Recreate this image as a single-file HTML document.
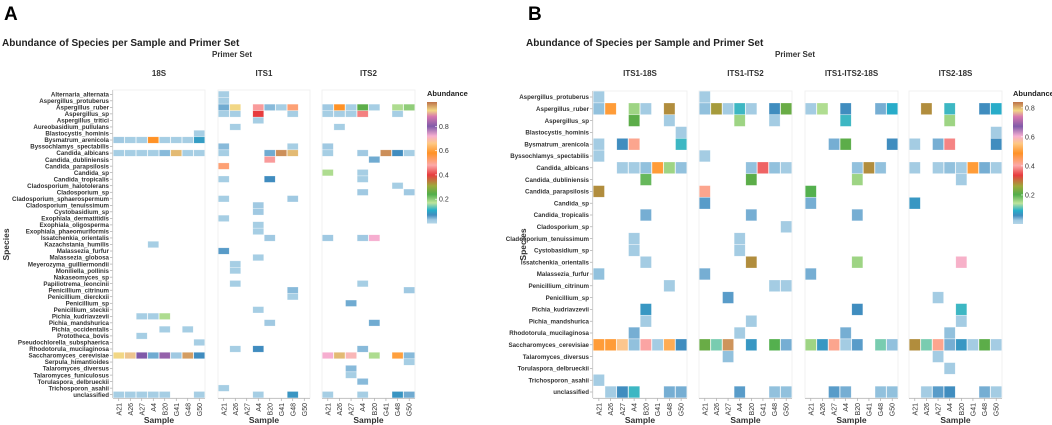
<!DOCTYPE html>
<html><head><meta charset="utf-8"><style>
body{margin:0;background:#fff;}
svg{display:block;font-family:"Liberation Sans",sans-serif;}
</style></head><body>
<svg id="fig" width="1052" height="425" viewBox="0 0 1052 425" xmlns="http://www.w3.org/2000/svg">
<defs>
<linearGradient id="cbar" x1="0" y1="1" x2="0" y2="0">
<stop offset="0" stop-color="#a6cee3"/><stop offset="0.03" stop-color="#8fc0dd"/><stop offset="0.07" stop-color="#1f78b4"/><stop offset="0.11" stop-color="#00a0c0"/><stop offset="0.17" stop-color="#b2df8a"/><stop offset="0.24" stop-color="#33a02c"/><stop offset="0.31" stop-color="#8c9a1a"/><stop offset="0.4" stop-color="#e31a1c"/><stop offset="0.48" stop-color="#fb9a99"/><stop offset="0.58" stop-color="#ff7f00"/><stop offset="0.66" stop-color="#fdbf6f"/><stop offset="0.72" stop-color="#f5a0c8"/><stop offset="0.8" stop-color="#6a3d9a"/><stop offset="0.88" stop-color="#d060a0"/><stop offset="0.93" stop-color="#f0d070"/><stop offset="1" stop-color="#b15928"/>
</linearGradient>
</defs>
</svg>
<script>
const samples = ["A21","A26","A27","A4","B20","G41","G48","G50"];
const speciesA = ["Alternaria_alternata","Aspergillus_protuberus","Aspergillus_ruber","Aspergillus_sp","Aspergillus_tritici","Aureobasidium_pullulans","Blastocystis_hominis","Bysmatrum_arenicola","Byssochlamys_spectabilis","Candida_albicans","Candida_dubliniensis","Candida_parapsilosis","Candida_sp","Candida_tropicalis","Cladosporium_halotolerans","Cladosporium_sp","Cladosporium_sphaerospermum","Cladosporium_tenuissimum","Cystobasidium_sp","Exophiala_dermatitidis","Exophiala_oligosperma","Exophiala_phaeomuriformis","Issatchenkia_orientalis","Kazachstania_humilis","Malassezia_furfur","Malassezia_globosa","Meyerozyma_guilliermondii","Moniliella_pollinis","Nakaseomyces_sp","Papiliotrema_leoncinii","Penicillium_citrinum","Penicillium_dierckxii","Penicillium_sp","Penicillium_steckii","Pichia_kudriavzevii","Pichia_mandshurica","Pichia_occidentalis","Prototheca_bovis","Pseudochlorella_subsphaerica","Rhodotorula_mucilaginosa","Saccharomyces_cerevisiae","Serpula_himantioides","Talaromyces_diversus","Talaromyces_funiculosus","Torulaspora_delbrueckii","Trichosporon_asahii","unclassified"];
const speciesB = ["Aspergillus_protuberus","Aspergillus_ruber","Aspergillus_sp","Blastocystis_hominis","Bysmatrum_arenicola","Byssochlamys_spectabilis","Candida_albicans","Candida_dubliniensis","Candida_parapsilosis","Candida_sp","Candida_tropicalis","Cladosporium_sp","Cladosporium_tenuissimum","Cystobasidium_sp","Issatchenkia_orientalis","Malassezia_furfur","Penicillium_citrinum","Penicillium_sp","Pichia_kudriavzevii","Pichia_mandshurica","Rhodotorula_mucilaginosa","Saccharomyces_cerevisiae","Talaromyces_diversus","Torulaspora_delbrueckii","Trichosporon_asahii","unclassified"];
const ticksA = [0.2,0.4,0.6,0.8];
const ticksB = [0.2,0.4,0.6,0.8];
// [species index, sample index, abundance]
const cells18S = [[6,7,0.02],[7,0,0.03],[7,1,0.02],[7,2,0.02],[7,3,0.58],[7,4,0.02],[7,5,0.02],[7,6,0.02],[7,7,0.09],[9,0,0.02],[9,1,0.02],[9,2,0.02],[9,3,0.02],[9,4,0.04],[9,5,0.95],[9,6,0.02],[9,7,0.02],[23,3,0.02],[34,2,0.02],[34,3,0.02],[34,4,0.18],[36,4,0.02],[36,6,0.02],[37,2,0.02],[38,7,0.02],[40,0,0.93],[40,1,0.92],[40,2,0.8],[40,3,0.05],[40,4,0.82],[40,5,0.03],[40,6,0.97],[40,7,0.07],[46,0,0.02],[46,1,0.02],[46,2,0.02],[46,3,0.02],[46,4,0.02],[46,7,0.02]];
const cellsITS1 = [[0,0,0.02],[1,0,0.02],[2,0,0.05],[2,1,0.93],[2,3,0.47],[2,4,0.04],[2,5,0.02],[2,6,0.52],[3,0,0.02],[3,1,0.02],[3,3,0.4],[3,6,0.02],[4,3,0.02],[5,1,0.02],[8,0,0.04],[8,6,0.02],[9,0,0.02],[9,4,0.05],[9,5,0.98],[9,6,0.95],[10,4,0.47],[11,0,0.52],[13,0,0.02],[13,4,0.07],[16,0,0.02],[16,6,0.03],[17,3,0.03],[18,3,0.03],[19,0,0.02],[20,3,0.02],[21,3,0.02],[22,4,0.03],[24,0,0.06],[25,3,0.02],[26,1,0.02],[27,1,0.02],[29,1,0.02],[30,6,0.04],[31,6,0.02],[33,3,0.02],[35,4,0.03],[39,1,0.02],[39,3,0.07],[45,0,0.02],[46,3,0.02],[46,6,0.08]];
const cellsITS2 = [[2,0,0.03],[2,1,0.58],[2,2,0.02],[2,3,0.25],[2,4,0.02],[2,6,0.18],[2,7,0.2],[3,0,0.02],[3,1,0.02],[3,2,0.02],[3,3,0.45],[3,6,0.02],[5,1,0.02],[8,0,0.03],[9,0,0.02],[9,3,0.03],[9,5,0.98],[9,6,0.07],[9,7,0.02],[10,4,0.05],[12,0,0.18],[12,3,0.02],[13,3,0.02],[14,6,0.02],[15,3,0.03],[15,7,0.03],[22,0,0.03],[22,3,0.03],[22,4,0.72],[29,3,0.02],[30,7,0.03],[32,2,0.05],[35,4,0.05],[39,3,0.04],[40,0,0.72],[40,1,0.95],[40,2,0.7],[40,4,0.18],[40,6,0.6],[40,7,0.04],[41,7,0.02],[42,2,0.04],[43,2,0.02],[44,3,0.04],[46,0,0.02],[46,3,0.02],[46,6,0.08],[46,7,0.05]];
const cellsITS1_18S = [[0,0,0.02],[1,0,0.03],[1,1,0.5],[1,3,0.16],[1,4,0.02],[1,6,0.28],[2,3,0.21],[2,6,0.02],[3,7,0.02],[4,0,0.02],[4,2,0.06],[4,3,0.42],[4,7,0.1],[5,0,0.02],[6,2,0.02],[6,3,0.02],[6,4,0.03],[6,5,0.5],[6,6,0.16],[6,7,0.03],[7,4,0.19],[8,0,0.28],[10,4,0.04],[12,3,0.02],[13,3,0.02],[14,4,0.02],[15,0,0.03],[16,6,0.02],[18,4,0.07],[19,4,0.02],[20,3,0.04],[21,0,0.5],[21,1,0.5],[21,2,0.56],[21,3,0.03],[21,4,0.4],[21,5,0.02],[21,6,0.52],[21,7,0.06],[24,0,0.02],[25,1,0.02],[25,2,0.06],[25,3,0.1],[25,6,0.04],[25,7,0.04]];
const cellsITS1_ITS2 = [[0,0,0.02],[1,0,0.03],[1,1,0.27],[1,2,0.02],[1,3,0.1],[1,4,0.02],[1,6,0.06],[1,7,0.22],[2,3,0.16],[2,6,0.02],[5,0,0.02],[6,4,0.03],[6,5,0.36],[6,6,0.03],[6,7,0.02],[7,4,0.21],[8,0,0.42],[9,0,0.05],[10,4,0.04],[11,7,0.02],[12,3,0.02],[13,3,0.02],[14,4,0.28],[15,0,0.04],[16,6,0.02],[16,7,0.02],[17,2,0.05],[19,4,0.02],[20,3,0.02],[21,0,0.22],[21,1,0.12],[21,2,0.82],[21,4,0.07],[21,6,0.2],[21,7,0.04],[22,2,0.03],[25,3,0.05],[25,6,0.03],[25,7,0.03]];
const cellsITS1_ITS2_18S = [[1,0,0.02],[1,1,0.15],[1,3,0.06],[1,6,0.04],[1,7,0.09],[2,3,0.1],[4,2,0.04],[4,3,0.21],[4,7,0.06],[6,4,0.03],[6,5,0.28],[6,6,0.03],[7,4,0.16],[8,0,0.2],[9,0,0.04],[10,4,0.04],[14,4,0.16],[15,0,0.04],[18,4,0.06],[20,3,0.04],[21,0,0.16],[21,1,0.07],[21,2,0.42],[21,3,0.02],[21,4,0.05],[21,6,0.12],[21,7,0.03],[25,2,0.05],[25,3,0.04],[25,6,0.03],[25,7,0.03]];
const cellsITS2_18S = [[1,1,0.28],[1,3,0.1],[1,6,0.06],[1,7,0.09],[2,3,0.16],[3,7,0.02],[4,0,0.02],[4,2,0.04],[4,3,0.38],[4,7,0.06],[6,0,0.02],[6,2,0.02],[6,3,0.03],[6,4,0.02],[6,5,0.5],[6,6,0.04],[6,7,0.02],[7,4,0.02],[9,0,0.07],[14,4,0.6],[17,2,0.02],[18,4,0.1],[19,4,0.02],[20,3,0.03],[21,0,0.28],[21,1,0.12],[21,2,0.42],[21,3,0.04],[21,4,0.07],[21,5,0.02],[21,6,0.21],[21,7,0.02],[22,2,0.02],[23,3,0.02],[25,1,0.02],[25,2,0.05],[25,3,0.06],[25,6,0.04],[25,7,0.02]];

const NS="http://www.w3.org/2000/svg";
const svg=document.getElementById('fig');
const stops=[[0,[166,206,227]],[0.03,[143,192,221]],[0.07,[31,120,180]],[0.11,[0,160,192]],[0.17,[178,223,138]],[0.24,[51,160,44]],[0.31,[140,154,26]],[0.4,[227,26,28]],[0.48,[251,154,153]],[0.58,[255,127,0]],[0.66,[253,191,111]],[0.72,[245,160,200]],[0.8,[106,61,154]],[0.88,[208,96,160]],[0.93,[240,208,112]],[1,[177,89,40]]];
function colorOf(v,max){let t=Math.max(0,Math.min(1,v/max));for(let i=1;i<stops.length;i++){if(t<=stops[i][0]){const a=stops[i-1],b=stops[i];const f=(t-a[0])/(b[0]-a[0]);const c=a[1].map((x,k)=>Math.round(x+(b[1][k]-x)*f));return `rgb(${c[0]},${c[1]},${c[2]})`;}}return 'rgb(177,89,40)';}
function el(tag,attrs,parent){const e=document.createElementNS(NS,tag);for(const k in attrs)e.setAttribute(k,attrs[k]);(parent||svg).appendChild(e);return e;}
function txt(s,attrs,parent){const e=el('text',attrs,parent);e.textContent=s;return e;}

function panel(cfg){
  const g=el('g',{});
  
  
  const n=cfg.species.length;
  const rowY=i=>cfg.y0+i*cfg.dy;
  const t1=txt(cfg.letter,{x:cfg.lx,y:20,'font-size':19,'font-weight':'bold',fill:'#000'},g);
  
  
  const t2=txt('Abundance of Species per Sample and Primer Set',{x:cfg.lx-2,y:46,'font-size':10,'font-weight':'bold',fill:'#222'},g);
  
  
  const t3=txt('Primer Set',{x:cfg.psx,y:57,'font-size':8,'font-weight':'bold','text-anchor':'middle',fill:'#333'},g);
  
  
  const t4=txt('Species',{x:0,y:0,'font-size':8.5,'font-weight':'bold','text-anchor':'middle',fill:'#333',transform:`translate(${cfg.spx},${(rowY(0)+rowY(n-1))/2}) rotate(-90)`},g);
  
  
  const ax=cfg.facets[0].x;
  el('line',{x1:ax-0.5,y1:cfg.top,x2:ax-0.5,y2:cfg.bottom,stroke:'#999','stroke-width':0.6},g);
  cfg.species.forEach((s,i)=>{
    const y=rowY(i);
    el('line',{x1:ax-3,y1:y,x2:ax-0.5,y2:y,stroke:'#999','stroke-width':0.6},g);
    const t=txt(s,{x:ax-4,y:y+cfg.fs*0.35,'font-size':cfg.fs,'font-weight':'bold','text-anchor':'end',fill:'#333'},g);
    
    
  });
  cfg.facets.forEach(f=>{
    const fg=el('g',{},g);
    
    
    const cw=f.w/samples.length;
    const colX=j=>f.x+j*cw;
    el('rect',{x:f.x,y:cfg.top,width:f.w,height:cfg.bottom-cfg.top,fill:'#fff',stroke:'#eee','stroke-width':0.8},fg);
    const ft=txt(f.label,{x:f.x+f.w/2,y:76,'font-size':8,'font-weight':'bold','text-anchor':'middle',fill:'#333'},fg);
    
    
    f.data.forEach(d=>{
      const r=el('rect',{x:colX(d[1])+0.3,y:rowY(d[0])-cfg.ch/2,width:cw-0.6,height:cfg.ch,fill:colorOf(d[2],cfg.max),'fill-opacity':0.85,stroke:'rgba(255,255,255,0.5)','stroke-width':0.5},fg);
      
      
    });
    el('line',{x1:f.x,y1:cfg.bottom+0.5,x2:f.x+f.w,y2:cfg.bottom+0.5,stroke:'#999','stroke-width':0.6},fg);
    samples.forEach((s,j)=>{
      const x=colX(j)+cw/2;
      el('line',{x1:x,y1:cfg.bottom+0.5,x2:x,y2:cfg.bottom+3,stroke:'#999','stroke-width':0.6},fg);
      const t=txt(s,{x:0,y:0,'font-size':7,'text-anchor':'end',fill:'#333',transform:`translate(${x+2.5},${cfg.bottom+5}) rotate(-90)`},fg);
      
      
    });
    const st=txt('Sample',{x:f.x+f.w/2,y:423,'font-size':8.5,'font-weight':'bold','text-anchor':'middle',fill:'#333'},fg);
    
    
  });
  const cb=el('g',{},g);
  
  
  const lt=txt('Abundance',{x:cfg.cbx,y:cfg.cbTop-6,'font-size':7.5,'font-weight':'bold',fill:'#222'},cb);
  
  
  el('rect',{x:cfg.cbx,y:cfg.cbTop,width:10,height:cfg.cbBot-cfg.cbTop,fill:'url(#cbar)','fill-opacity':0.85},cb);
  cfg.ticks.forEach(v=>{
    const y=cfg.cbBot-(v/cfg.max)*(cfg.cbBot-cfg.cbTop);
    el('line',{x1:cfg.cbx+8,y1:y,x2:cfg.cbx+10,y2:y,stroke:'#fff','stroke-width':0.6},cb);
    const t=txt(v.toFixed(1),{x:cfg.cbx+12,y:y+2.5,'font-size':7,fill:'#333'},cb);
    
    
  });
}

panel({name:'panel-a',letter:'A',lx:4,spx:9,psx:232,species:speciesA,y0:94.3,dy:6.53,ch:6.4,top:90,bottom:398,fs:6.2,max:1.0,
  facets:[{label:'18S',x:113,w:92,data:cells18S},{label:'ITS1',x:218,w:92,data:cellsITS1},{label:'ITS2',x:322,w:93,data:cellsITS2}],
  cbx:427,cbTop:102,cbBot:223.5,ticks:ticksA});
panel({name:'panel-b',letter:'B',lx:528,spx:526,psx:795,species:speciesB,y0:97,dy:11.8,ch:11.6,top:91,bottom:398,fs:6.2,max:0.84,
  facets:[{label:'ITS1-18S',x:593,w:94,data:cellsITS1_18S},{label:'ITS1-ITS2',x:699,w:93,data:cellsITS1_ITS2},{label:'ITS1-ITS2-18S',x:805,w:93,data:cellsITS1_ITS2_18S},{label:'ITS2-18S',x:909,w:93,data:cellsITS2_18S}],
  cbx:1013,cbTop:102,cbBot:224,ticks:ticksB});
</script>
</body></html>
